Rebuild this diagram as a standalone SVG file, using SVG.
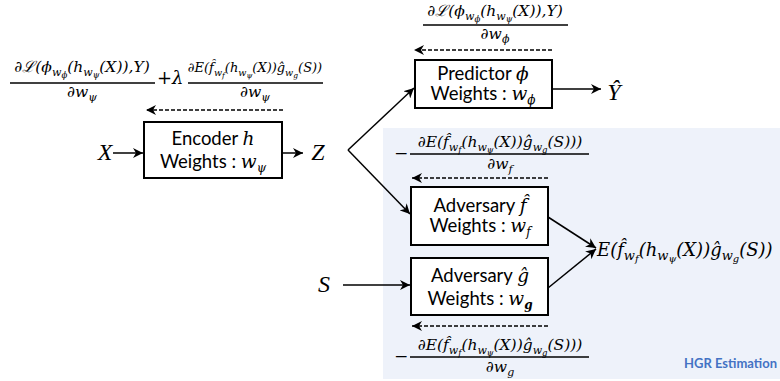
<svg xmlns="http://www.w3.org/2000/svg" width="780" height="381" viewBox="0 0 780 381">
<defs>
<marker id="ah" markerUnits="userSpaceOnUse" markerWidth="11" markerHeight="10" refX="10" refY="5" orient="auto">
<path d="M0,0 L10,5 L0,10 L3,5 z" fill="#000"/>
</marker>
<style>
.box{fill:#fff;stroke:#000;stroke-width:2}
.ln{fill:none;stroke:#000;stroke-width:1.5}
.ds{fill:none;stroke:#000;stroke-width:1.3;stroke-dasharray:4 2}
.fr{stroke:#000;stroke-width:1.4}
.t{font-family:Lato,"Liberation Sans",sans-serif;font-size:18.5px;fill:#000}
.m{font-family:"DejaVu Serif","Liberation Serif",serif;font-style:italic;fill:#000}
.v{font-family:"Liberation Serif","DejaVu Serif",serif;font-style:italic;font-size:24px;fill:#000}
.f{font-size:15.5px}
.s{font-size:11px}
.ss{font-size:8.5px}
.hgr{font-family:Lato,"Liberation Sans",sans-serif;font-weight:bold;font-size:13px;fill:#4472c4}
</style>
</defs>
<rect x="383" y="128" width="397" height="251" fill="#eef2fa"/>
<g id="connectors">
<line class="ln" x1="113" y1="153" x2="143" y2="153" marker-end="url(#ah)"/>
<line class="ln" x1="282" y1="153" x2="303" y2="153" marker-end="url(#ah)"/>
<line class="ln" x1="348" y1="150" x2="414" y2="88" marker-end="url(#ah)"/>
<line class="ln" x1="348" y1="150" x2="410" y2="214" marker-end="url(#ah)"/>
<line class="ln" x1="552" y1="89" x2="601" y2="89" marker-end="url(#ah)"/>
<line class="ln" x1="343" y1="285" x2="410" y2="285" marker-end="url(#ah)"/>
<line class="ln" x1="548" y1="217" x2="596" y2="248" marker-end="url(#ah)"/>
<line class="ln" x1="548" y1="288" x2="596" y2="249" marker-end="url(#ah)"/>
<line class="ds" x1="283" y1="110" x2="146" y2="110" marker-end="url(#ah)"/>
<line class="ds" x1="552" y1="50" x2="414" y2="50" marker-end="url(#ah)"/>
<line class="ds" x1="548" y1="178" x2="412" y2="178" marker-end="url(#ah)"/>
<line class="ds" x1="548" y1="326" x2="412" y2="326" marker-end="url(#ah)"/>
</g>
<g id="encoder">
<rect class="box" x="144" y="122" width="138" height="56"/>
<text class="t" x="213" y="145" text-anchor="middle">Encoder <tspan class="m">h</tspan></text>
<text class="t" x="213" y="168" text-anchor="middle">Weights : <tspan class="m">w</tspan><tspan class="m" font-size="12" dy="4">ψ</tspan></text>
</g>
<g id="predictor">
<rect class="box" x="415" y="60" width="137" height="48"/>
<text class="t" x="483" y="80" text-anchor="middle">Predictor <tspan class="m">ϕ</tspan></text>
<text class="t" x="483" y="100" text-anchor="middle">Weights : <tspan class="m">w</tspan><tspan class="m" font-size="12" dy="4">ϕ</tspan></text>
</g>
<g id="adversary_f">
<rect class="box" x="411" y="187" width="137" height="58"/>
<text class="t" x="480" y="212" text-anchor="middle">Adversary <tspan class="m">f̂</tspan></text>
<text class="t" x="480" y="232" text-anchor="middle">Weights : <tspan class="m">w</tspan><tspan class="m" font-size="12" dy="4">f</tspan></text>
</g>
<g id="adversary_g">
<rect class="box" x="411" y="258" width="137" height="57"/>
<text class="t" x="480" y="282" text-anchor="middle">Adversary <tspan class="m">ĝ</tspan></text>
<text class="t" x="480" y="305" text-anchor="middle">Weights : <tspan class="m">w</tspan><tspan class="m" font-size="12" dy="4" font-weight="bold">g</tspan></text>
</g>
<g id="X"><text class="v" x="105" y="160" text-anchor="middle">X</text></g>
<g id="Z"><text class="v" x="318" y="160" text-anchor="middle">Z</text></g>
<g id="Yhat"><text class="v" x="614" y="100" text-anchor="middle">Ŷ</text></g>
<g id="S"><text class="v" x="324" y="292" text-anchor="middle">S</text></g>
<g id="E_out">
<text class="m" x="597" y="256" font-size="18">E(f̂<tspan font-size="13" dy="4">w</tspan><tspan font-size="10" dy="2">f</tspan><tspan dy="-6">(h</tspan><tspan font-size="13" dy="4">w</tspan><tspan font-size="10" dy="2">ψ</tspan><tspan dy="-6">(X))ĝ</tspan><tspan font-size="13" dy="4">w</tspan><tspan font-size="10" dy="2">g</tspan><tspan dy="-6">(S))</tspan></text>
</g>
<g id="grad_encoder">
<text class="m f" x="82" y="72" text-anchor="middle">∂ℒ(ϕ<tspan class="s" dy="4">w</tspan><tspan class="ss" dy="2">ϕ</tspan><tspan dy="-6">(h</tspan><tspan class="s" dy="4">w</tspan><tspan class="ss" dy="2">ψ</tspan><tspan dy="-6">(X)),Y)</tspan></text>
<line class="fr" x1="10" y1="83" x2="155" y2="83"/>
<text class="m f" x="82" y="97" text-anchor="middle">∂w<tspan class="s" dy="4">ψ</tspan></text>
<text class="m" x="157" y="84" font-size="18">+λ</text>
<text class="m" x="255" y="72" text-anchor="middle" font-size="13">∂E(f̂<tspan font-size="9.5" dy="4">w</tspan><tspan font-size="7.5" dy="2">f</tspan><tspan dy="-6">(h</tspan><tspan font-size="9.5" dy="4">w</tspan><tspan font-size="7.5" dy="2">ψ</tspan><tspan dy="-6">(X))ĝ</tspan><tspan font-size="9.5" dy="4">w</tspan><tspan font-size="7.5" dy="2">g</tspan><tspan dy="-6">(S))</tspan></text>
<line class="fr" x1="188" y1="83" x2="323" y2="83"/>
<text class="m f" x="255" y="97" text-anchor="middle">∂w<tspan class="s" dy="4">ψ</tspan></text>
</g>
<g id="grad_predictor">
<text class="m f" x="495" y="16" text-anchor="middle">∂ℒ(ϕ<tspan class="s" dy="4">w</tspan><tspan class="ss" dy="2">ϕ</tspan><tspan dy="-6">(h</tspan><tspan class="s" dy="4">w</tspan><tspan class="ss" dy="2">ψ</tspan><tspan dy="-6">(X)),Y)</tspan></text>
<line class="fr" x1="423" y1="25" x2="568" y2="25"/>
<text class="m f" x="495" y="39" text-anchor="middle">∂w<tspan class="s" dy="4">ϕ</tspan></text>
</g>
<g id="grad_f">
<text class="m" x="394" y="159" font-size="17">−</text>
<text class="m f" x="500" y="147" text-anchor="middle">∂E(f̂<tspan class="s" dy="4">w</tspan><tspan class="ss" dy="2">f</tspan><tspan dy="-6">(h</tspan><tspan class="s" dy="4">w</tspan><tspan class="ss" dy="2">ψ</tspan><tspan dy="-6">(X))ĝ</tspan><tspan class="s" dy="4">w</tspan><tspan class="ss" dy="2">g</tspan><tspan dy="-6">(S)))</tspan></text>
<line class="fr" x1="410" y1="154" x2="589" y2="154"/>
<text class="m f" x="500" y="169" text-anchor="middle">∂w<tspan class="s" dy="4">f</tspan></text>
</g>
<g id="grad_g">
<text class="m" x="394" y="362" font-size="17">−</text>
<text class="m f" x="500" y="350" text-anchor="middle">∂E(f̂<tspan class="s" dy="4">w</tspan><tspan class="ss" dy="2">f</tspan><tspan dy="-6">(h</tspan><tspan class="s" dy="4">w</tspan><tspan class="ss" dy="2">ψ</tspan><tspan dy="-6">(X))ĝ</tspan><tspan class="s" dy="4">w</tspan><tspan class="ss" dy="2">g</tspan><tspan dy="-6">(S)))</tspan></text>
<line class="fr" x1="410" y1="357" x2="589" y2="357"/>
<text class="m f" x="500" y="372" text-anchor="middle">∂w<tspan class="s" dy="4">g</tspan></text>
</g>
<g id="label"><text class="hgr" x="777" y="368" text-anchor="end">HGR Estimation</text></g>
</svg>
